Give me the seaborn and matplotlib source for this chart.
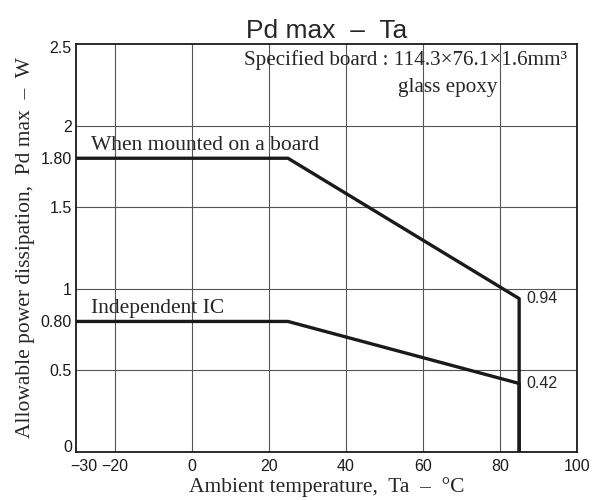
import pandas as pd
import seaborn as sns
import matplotlib.pyplot as plt
from matplotlib.transforms import ScaledTranslation

# derating curves
board_ta = [-30, 25, 85, 85]
board_pd = [1.80, 1.80, 0.94, 0.0]
ic_ta = [-30, 25, 85, 85]
ic_pd = [0.80, 0.80, 0.42, 0.0]

x_ticks = [-30, -20, 0, 20, 40, 60, 80, 100]
x_tick_labels = ["\u221230", "\u221220", "0", "20", "40", "60", "80", "100"]
y_ticks = [0, 0.5, 0.8, 1, 1.5, 1.8, 2, 2.5]
y_tick_labels = ["0", "0.5", "0.80", "1", "1.5", "1.80", "2", "2.5"]

sns.set_style("white")
plt.rcParams['font.family'] = ['Liberation Sans', 'DejaVu Sans']

df = pd.concat([
    pd.DataFrame({"Ta": board_ta, "Pd": board_pd, "curve": "board"}),
    pd.DataFrame({"Ta": ic_ta, "Pd": ic_pd, "curve": "ic"}),
])

fig = plt.figure(figsize=(6.01, 5.0), dpi=100)
ax = fig.add_axes([0.1265, 0.096, 0.8335, 0.816])

# grid lines first so curves sit on top
for gx in [-20, 0, 20, 40, 60, 80]:
    ax.axvline(gx, color="#555555", lw=0.8, zorder=1)
for gy in [0.5, 1, 1.5, 2]:
    ax.axhline(gy, color="#555555", lw=0.8, zorder=1)

sns.lineplot(data=df, x="Ta", y="Pd", units="curve", estimator=None, sort=False,
             color="#1a1a1a", lw=2.4, ax=ax, zorder=3)

ax.set_xlim(-30, 100)
ax.set_ylim(0, 2.5)
ax.set_xticks(x_ticks)
ax.set_xticklabels(x_tick_labels)
ax.set_yticks(y_ticks)
ax.set_yticklabels(y_tick_labels)
ax.tick_params(length=0, labelsize=11.5, colors="#1a1a1a")
ax.tick_params(axis="x", pad=5)
ax.tick_params(axis="y", pad=3)
for s in ax.spines.values():
    s.set_color("#1a1a1a")
    s.set_linewidth(1.3)

# end labels are nudged inside like in the original
xl = ax.get_xticklabels()
xl[0].set_transform(xl[0].get_transform() + ScaledTranslation(8 / 100, 0, fig.dpi_scale_trans))
yl = ax.get_yticklabels()
yl[0].set_transform(yl[0].get_transform() + ScaledTranslation(0, 6 / 100, fig.dpi_scale_trans))
yl[-1].set_transform(yl[-1].get_transform() + ScaledTranslation(0, -3 / 100, fig.dpi_scale_trans))

serif = ['Liberation Serif', 'DejaVu Serif']
ax.set_xlabel("Ambient temperature,  Ta  \u2013  \u00b0C", family=serif, fontsize=15.5, labelpad=2)
ax.set_ylabel("Allowable power dissipation,  Pd max  \u2013  W", family=serif, fontsize=15.5, labelpad=4)
ax.set_title("Pd max  \u2013  Ta", fontsize=19, pad=4)

ax.text(-26, 1.82, "When mounted on a board", family=serif, fontsize=15.5, va="bottom", ha="left")
ax.text(-26, 0.82, "Independent IC", family=serif, fontsize=15.5, va="bottom", ha="left")
ax.text(97.4, 2.46, "Specified board : 114.3\u00d776.1\u00d71.6mm\u00b3", family=serif,
        fontsize=15.2, va="top", ha="right")
ax.text(66.5, 2.29, "glass epoxy", family=serif, fontsize=15.2, va="top", ha="center")
ax.text(87, 0.94, "0.94", fontsize=11.5, va="center", ha="left")
ax.text(87, 0.42, "0.42", fontsize=11.5, va="center", ha="left")

fig.savefig("out.png", dpi=100)
